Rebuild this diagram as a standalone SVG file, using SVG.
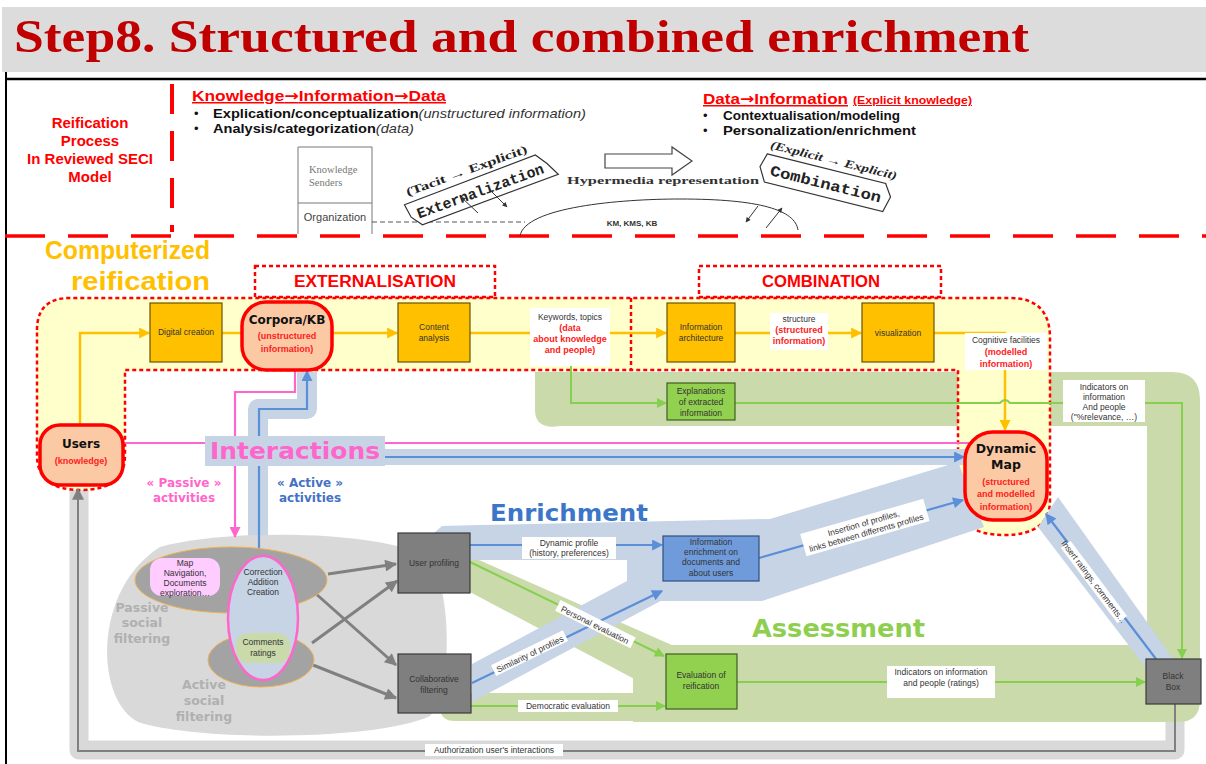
<svg xmlns="http://www.w3.org/2000/svg" width="1206" height="764" viewBox="0 0 1206 764">
<defs>
<style>
.sans{font-family:"Liberation Sans",Arial,sans-serif}
.serif{font-family:"Liberation Serif","Times New Roman",serif}
.mono{font-family:"Liberation Mono","Courier New",monospace;font-weight:bold}
.dv{font-family:"DejaVu Sans","Liberation Sans",sans-serif;font-weight:bold}
.arr{font-family:"DejaVu Sans",sans-serif;font-weight:bold}
.lbl{font-family:"Liberation Sans",Arial,sans-serif;font-size:8.5px;fill:#333;text-anchor:middle}
.rl{font-family:"Liberation Sans",Arial,sans-serif;font-size:9px;font-weight:bold;fill:#ff2020;text-anchor:middle}
.ob{fill:#ffc000;stroke:#6b5200;stroke-width:1.2}
.gb{fill:#7f7f7f;stroke:#3a3a3a;stroke-width:1.2}
.grn{fill:#92d050;stroke:#3f5f1f;stroke-width:1.2}
.peach{fill:#fbc9a3;stroke:#ff0000;stroke-width:3.5}
.wb{fill:#ffffff}
.rdash{fill:none;stroke:#ff0000;stroke-width:2.5;stroke-dasharray:4 3}
.ol{fill:none;stroke:#ffc000;stroke-width:2.5}
.gl{fill:none;stroke:#86d04f;stroke-width:2}
.bl{fill:none;stroke:#5b8fd8;stroke-width:2.2}
.pl{fill:none;stroke:#ff66cc;stroke-width:2.2}
.gyl{fill:none;stroke:#808080;stroke-width:3}
.bband{fill:#c6d4e6}
.gband{fill:#cadaab}
.sk{fill:none;stroke:#333;stroke-width:1}
</style>
<marker id="mo" viewBox="0 0 10 10" refX="9" refY="5" markerUnits="userSpaceOnUse" markerWidth="13" markerHeight="11" orient="auto"><path d="M0,0 L10,5 L0,10 z" fill="#ffc000"/></marker>
<marker id="mg" viewBox="0 0 10 10" refX="9" refY="5" markerUnits="userSpaceOnUse" markerWidth="12" markerHeight="10" orient="auto"><path d="M0,0 L10,5 L0,10 z" fill="#86d04f"/></marker>
<marker id="mb" viewBox="0 0 10 10" refX="9" refY="5" markerUnits="userSpaceOnUse" markerWidth="13" markerHeight="11" orient="auto"><path d="M0,0 L10,5 L0,10 z" fill="#5b8fd8"/></marker>
<marker id="mp" viewBox="0 0 10 10" refX="9" refY="5" markerUnits="userSpaceOnUse" markerWidth="13" markerHeight="11" orient="auto"><path d="M0,0 L10,5 L0,10 z" fill="#ff66cc"/></marker>
<marker id="my" viewBox="0 0 10 10" refX="9" refY="5" markerUnits="userSpaceOnUse" markerWidth="15" markerHeight="12" orient="auto"><path d="M0,0 L10,5 L0,10 z" fill="#808080"/></marker>
<marker id="mk" viewBox="0 0 10 10" refX="9" refY="5" markerUnits="userSpaceOnUse" markerWidth="6" markerHeight="5" orient="auto"><path d="M0,0 L10,5 L0,10 z" fill="#333"/></marker>
</defs>

<rect width="1206" height="764" fill="#ffffff"/>

<!-- Title -->
<g id="title">
<rect x="2" y="7" width="1204" height="65" fill="#dcdcdc"/>
<text x="14" y="52" class="serif" font-weight="bold" font-size="47" fill="#c00000" textLength="1015" lengthAdjust="spacingAndGlyphs">Step8. Structured and combined enrichment</text>
</g>

<!-- Frame -->
<g id="frame">
<line x1="6" y1="79" x2="1206" y2="79" stroke="#000" stroke-width="2.5"/>
<line x1="6" y1="72" x2="6" y2="764" stroke="#000" stroke-width="2"/>
<line x1="172" y1="84" x2="172" y2="232" stroke="#ff0000" stroke-width="4" stroke-dasharray="30 17"/>
<line x1="5" y1="236" x2="1206" y2="236" stroke="#ff0000" stroke-width="3.5" stroke-dasharray="40 23"/>
</g>

<!-- Header -->
<g id="header" class="sans">
<g font-weight="bold" font-size="15" fill="#ff0000" text-anchor="middle">
<text x="90" y="128">Reification</text>
<text x="90" y="146">Process</text>
<text x="90" y="164">In Reviewed SECI</text>
<text x="90" y="182">Model</text>
</g>
<text x="192" y="101" font-weight="bold" font-size="15" fill="#ff0000" text-decoration="underline" textLength="254" lengthAdjust="spacingAndGlyphs">Knowledge<tspan class="arr">→</tspan>Information<tspan class="arr">→</tspan>Data</text>
<text x="194" y="118" font-size="13" fill="#111">•</text>
<text x="213" y="118" font-size="13.5" textLength="373" lengthAdjust="spacingAndGlyphs"><tspan font-weight="bold" fill="#111">Explication/conceptualization</tspan><tspan font-style="italic" fill="#333">(unstructured information)</tspan></text>
<text x="194" y="133" font-size="13" fill="#111">•</text>
<text x="213" y="133" font-size="13.5" textLength="201" lengthAdjust="spacingAndGlyphs"><tspan font-weight="bold" fill="#111">Analysis/categorization</tspan><tspan font-style="italic" fill="#333">(data)</tspan></text>
<text x="703" y="104" font-weight="bold" font-size="15" fill="#ff0000" text-decoration="underline" textLength="145" lengthAdjust="spacingAndGlyphs">Data<tspan class="arr">→</tspan>Information</text>
<text x="853" y="104" font-weight="bold" font-size="10" fill="#ff0000" text-decoration="underline" textLength="119" lengthAdjust="spacingAndGlyphs">(Explicit knowledge)</text>
<text x="703" y="120" font-size="13" fill="#111">•</text>
<text x="723" y="120" font-size="13.5" font-weight="bold" fill="#111" textLength="177" lengthAdjust="spacingAndGlyphs">Contextualisation/modeling</text>
<text x="703" y="135" font-size="13" fill="#111">•</text>
<text x="723" y="135" font-size="13.5" font-weight="bold" fill="#111" textLength="193" lengthAdjust="spacingAndGlyphs">Personalization/enrichment</text>
</g>

<!-- SECI picture -->
<g id="seci">
<path d="M298 234 V147 H372 V234 M298 203 H372" stroke="#777" fill="none"/>
<text x="309" y="173" class="serif" font-size="10.5" fill="#777">Knowledge</text>
<text x="309" y="186" class="serif" font-size="10.5" fill="#777">Senders</text>
<text x="335" y="221" class="sans" font-size="11" fill="#444" text-anchor="middle">Organization</text>
<line x1="372" y1="222" x2="525" y2="222" stroke="#555" stroke-dasharray="5 3"/>
<g transform="translate(480,190) rotate(-20)">
<path d="M-76,-12 L64,-14 L72,-2 L79,12 L-66,13 L-74,2 Z" fill="#fff" stroke="#333" stroke-width="1.2"/>
<text x="0" y="6" class="mono" font-size="15" fill="#222" text-anchor="middle" textLength="134" lengthAdjust="spacingAndGlyphs">Externalization</text>
<text x="-6" y="-19" class="serif" font-weight="bold" font-size="11.5" fill="#222" text-anchor="middle" textLength="128" lengthAdjust="spacingAndGlyphs">(Tacit → Explicit)</text>
</g>
<line x1="478" y1="213" x2="461" y2="197" class="sk" marker-end="url(#mk)"/>
<line x1="491" y1="191" x2="507" y2="207" class="sk" marker-end="url(#mk)"/>
<polygon points="605,154 672,154 672,147 692,161 672,175 672,168 605,168" fill="#fff" stroke="#444" stroke-width="1.2"/>
<text x="567" y="184" class="serif" font-weight="bold" font-size="10.5" fill="#333" textLength="192" lengthAdjust="spacingAndGlyphs">Hypermedia representation</text>
<path d="M520 236 C525 207 620 199 680 199 C760 199 795 210 798 230" class="sk"/>
<text x="632" y="226" class="sans" font-weight="bold" font-size="8" fill="#333" text-anchor="middle">KM, KMS, KB</text>
<g transform="translate(826,183) rotate(14)">
<path d="M-64,-14 L58,-14 L66,-2 L62,14 L-60,14 L-68,0 Z" fill="#fff" stroke="#333" stroke-width="1.2"/>
<text x="0" y="6" class="mono" font-size="15" fill="#222" text-anchor="middle" textLength="114" lengthAdjust="spacingAndGlyphs">Combination</text>
<text x="2" y="-20" class="serif" font-weight="bold" font-style="italic" font-size="11.5" fill="#222" text-anchor="middle" textLength="130" lengthAdjust="spacingAndGlyphs">(Explicit → Explicit)</text>
</g>
<line x1="758" y1="206" x2="746" y2="222" class="sk" marker-end="url(#mk)"/>
<line x1="766" y1="228" x2="782" y2="208" class="sk" marker-end="url(#mk)"/>
</g>

<!-- Background regions -->
<g id="regions">
<path d="M79 490 V750 H1175 V704" fill="none" stroke="#d9d9d9" stroke-width="19" stroke-linejoin="round"/>
<path class="gband" d="M535 372 H1172 Q1200 372 1200 400 V426 H560 Q535 430 535 410 Z"/>
<rect class="gband" x="1147" y="398" width="53" height="300"/>
<path class="gband" d="M633 665 Q633 645 653 645 H1200 V700 Q1200 722 1178 722 H633 Z"/>
<path class="gband" d="M455 693 H640 V721 H455 Q440 721 440 707 Q440 693 455 693 Z"/>
<polygon class="gband" points="470,556 674,646 640,682 470,592"/>
<path d="M37 330 Q37 298 70 298 H1010 Q1050 298 1050 338 V500 Q1050 535 1004 535 Q958 535 958 500 V370 H125 V455 Q125 490 81 490 Q37 490 37 455 Z" fill="#ffffcc" stroke="#ff0000" stroke-width="2.5" stroke-dasharray="4 3"/>
<line x1="631" y1="298" x2="631" y2="370" class="rdash"/>
<rect x="255" y="266" width="240" height="31" class="rdash"/>
<rect x="699" y="266" width="242" height="31" class="rdash"/>
<text x="375" y="287" class="sans" font-weight="bold" font-size="16" fill="#ff0000" text-anchor="middle" textLength="162" lengthAdjust="spacingAndGlyphs">EXTERNALISATION</text>
<text x="821" y="287" class="sans" font-weight="bold" font-size="16" fill="#ff0000" text-anchor="middle" textLength="118" lengthAdjust="spacingAndGlyphs">COMBINATION</text>
<text x="45" y="259" class="sans" font-weight="bold" font-size="26" fill="#ffc000" textLength="165" lengthAdjust="spacingAndGlyphs">Computerized</text>
<text x="71" y="290" class="sans" font-weight="bold" font-size="26" fill="#ffc000" textLength="139" lengthAdjust="spacingAndGlyphs">reification</text>
<!-- blue bands -->
<path d="M258 560 V409 H307 V372" fill="none" stroke="#c6d4e6" stroke-width="20" stroke-linejoin="round"/>
<rect class="bband" x="385" y="449" width="580" height="16"/>
<polygon class="bband" points="433,534 442,526 480,525 770,519 958,462 984,527 762,601 627,601 627,560 440,560"/>
<polygon class="bband" points="472,664 640,574 668,597 472,702"/>
<polygon class="bband" points="1038,527 1058,497 1174,660 1146,668"/>
<!-- social filtering blob -->
<path d="M160 547 C230 528 390 530 432 560 C452 600 452 690 430 716 C380 740 200 742 138 722 C95 700 92 590 160 547 Z" fill="#d9d9d9"/>
<g class="dv" font-size="12.5" fill="#b0b0b0" text-anchor="middle">
<text x="142" y="612">Passive</text>
<text x="142" y="627">social</text>
<text x="142" y="643">filtering</text>
<text x="204" y="689">Active</text>
<text x="204" y="705">social</text>
<text x="204" y="721">filtering</text>
</g>
<text x="490" y="521" class="dv" font-size="23.5" fill="#3b76c9" textLength="158" lengthAdjust="spacingAndGlyphs">Enrichment</text>
<text x="752" y="637" class="dv" font-size="24" fill="#8fcf4f" textLength="173" lengthAdjust="spacingAndGlyphs">Assessment</text>
<g class="dv" font-size="12" text-anchor="middle">
<text x="184" y="487" fill="#ff66cc">« Passive »</text>
<text x="184" y="502" fill="#ff66cc">activities</text>
<text x="310" y="487" fill="#4472c4">« Active »</text>
<text x="310" y="502" fill="#4472c4">activities</text>
</g>
</g>

<!-- Connectors -->
<g id="connectors">
<path class="ol" d="M80 425 V333 H149" marker-end="url(#mo)"/>
<line class="ol" x1="222" y1="333" x2="242" y2="333"/>
<line class="ol" x1="332" y1="333" x2="397" y2="333" marker-end="url(#mo)"/>
<line class="ol" x1="470" y1="333" x2="666" y2="333" marker-end="url(#mo)"/>
<line class="ol" x1="735" y1="333" x2="861" y2="333" marker-end="url(#mo)"/>
<path class="ol" d="M933 333 H1005 V430" marker-end="url(#mo)"/>
<path class="gl" d="M571 366 V403 H666" marker-end="url(#mg)"/>
<path class="gl" d="M735 403 H1000 Q1005 397 1010 403 H1182 V658" marker-end="url(#mg)"/>
<line class="gl" x1="737" y1="682" x2="1145" y2="682" marker-end="url(#mg)"/>
<line class="gl" x1="471" y1="706" x2="665" y2="706" marker-end="url(#mg)"/>
<line class="gl" x1="470" y1="562" x2="664" y2="656" marker-end="url(#mg)"/>
<path class="pl" d="M123 443 H975"/>
<path class="pl" d="M295 370 V392 H235 V537" marker-end="url(#mp)"/>
<path class="bl" d="M259 556 V409 H307 V371" marker-end="url(#mb)"/>
<line class="bl" x1="385" y1="457" x2="964" y2="457" marker-end="url(#mb)"/>
<line class="bl" x1="470" y1="545" x2="662" y2="545" marker-end="url(#mb)"/>
<line class="bl" x1="472" y1="683" x2="662" y2="591" marker-end="url(#mb)"/>
<line class="bl" x1="759" y1="558" x2="963" y2="500" marker-end="url(#mb)"/>
<line class="bl" x1="1156" y1="659" x2="1046" y2="514" marker-end="url(#mb)"/>
<line class="gyl" x1="328" y1="574" x2="396" y2="564" marker-end="url(#my)"/>
<line class="gyl" x1="315" y1="593" x2="396" y2="665" marker-end="url(#my)"/>
<line class="gyl" x1="312" y1="643" x2="397" y2="581" marker-end="url(#my)"/>
<line class="gyl" x1="313" y1="665" x2="396" y2="698" marker-end="url(#my)"/>
<path d="M1175 704 V751 H78 V489" fill="none" stroke="#808080" stroke-width="2" marker-end="url(#my)"/>
</g>

<!-- Edge labels -->
<g id="edge-labels">
<rect class="wb" x="530" y="308" width="80" height="58"/>
<text class="lbl" x="570" y="320" fill="#555">Keywords, topics</text>
<text class="rl" x="570" y="331">(data</text>
<text class="rl" x="570" y="342">about knowledge</text>
<text class="rl" x="570" y="353">and people)</text>
<rect class="wb" x="770" y="313" width="58" height="37"/>
<text class="lbl" x="799" y="322" fill="#555">structure</text>
<text class="rl" x="799" y="333">(structured</text>
<text class="rl" x="799" y="344">information)</text>
<rect class="wb" x="965" y="333" width="82" height="37"/>
<text class="lbl" x="1006" y="343" fill="#444">Cognitive facilities</text>
<text class="rl" x="1006" y="355">(modelled</text>
<text class="rl" x="1006" y="367">information)</text>
<rect class="wb" x="1063" y="380" width="82" height="42"/>
<text class="lbl" x="1104" y="390">Indicators on</text>
<text class="lbl" x="1104" y="400">information</text>
<text class="lbl" x="1104" y="410">And people</text>
<text class="lbl" x="1104" y="420" font-size="7.5">("%relevance, …)</text>
<rect class="wb" x="522" y="537" width="94" height="22"/>
<text class="lbl" x="569" y="546">Dynamic profile</text>
<text class="lbl" x="569" y="556">(history, preferences)</text>
<rect class="wb" x="518" y="700" width="100" height="12"/>
<text class="lbl" x="568" y="709">Democratic evaluation</text>
<rect class="wb" x="887" y="666" width="108" height="32"/>
<text class="lbl" x="941" y="675">Indicators on information</text>
<text class="lbl" x="941" y="686">and people (ratings)</text>
<rect class="wb" x="425" y="744" width="138" height="12"/>
<text class="lbl" x="494" y="753">Authorization user's interactions</text>
<g transform="translate(595,625) rotate(26.5)">
<rect class="wb" x="-42" y="-7" width="84" height="12"/>
<text class="lbl" x="0" y="3">Personal  evaluation</text>
</g>
<g transform="translate(530,654) rotate(-26)">
<rect class="wb" x="-40" y="-7" width="80" height="12"/>
<text class="lbl" x="0" y="3">Similarity of profiles</text>
</g>
<g transform="translate(865,528) rotate(-16)">
<rect class="wb" x="-64" y="-12" width="128" height="23"/>
<text class="lbl" x="0" y="-2">Insertion of profiles,</text>
<text class="lbl" x="0" y="8">links between differents profiles</text>
</g>
<g transform="translate(1094,582) rotate(53)">
<rect class="wb" x="-47" y="-6" width="94" height="12"/>
<text class="lbl" x="0" y="3">Insert ratings, comments…</text>
</g>
</g>

<!-- Interactions -->
<g id="interactions">
<rect x="205" y="436" width="180" height="30" fill="#c6d4e6"/>
<text x="295" y="459" class="dv" font-size="23" fill="#ff66cc" text-anchor="middle" textLength="170" lengthAdjust="spacingAndGlyphs">Interactions</text>
</g>

<!-- Nodes -->
<g id="node-users">
<rect class="peach" x="40" y="425" width="83" height="60" rx="20"/>
<text x="81" y="448" class="dv" font-size="12" fill="#111" text-anchor="middle">Users</text>
<text x="81" y="464" class="rl" font-size="9.5">(knowledge)</text>
</g>
<g id="node-digital-creation">
<rect class="ob" x="150" y="303" width="72" height="59"/>
<text class="lbl" x="186" y="335" font-size="9.5">Digital creation</text>
</g>
<g id="node-corpora">
<rect class="peach" x="242" y="302" width="90" height="68" rx="24"/>
<text x="287" y="324" class="dv" font-size="12" fill="#111" text-anchor="middle">Corpora/KB</text>
<text class="rl" x="287" y="339" font-size="10">(unstructured</text>
<text class="rl" x="287" y="352" font-size="10">information)</text>
</g>
<g id="node-content-analysis">
<rect class="ob" x="398" y="303" width="72" height="59"/>
<text class="lbl" x="434" y="330" font-size="9.5">Content</text>
<text class="lbl" x="434" y="341" font-size="9.5">analysis</text>
</g>
<g id="node-info-architecture">
<rect class="ob" x="667" y="303" width="68" height="59"/>
<text class="lbl" x="701" y="330" font-size="9.5">Information</text>
<text class="lbl" x="701" y="341" font-size="9.5">architecture</text>
</g>
<g id="node-visualization">
<rect class="ob" x="862" y="303" width="72" height="59"/>
<text class="lbl" x="898" y="336" font-size="9.5">visualization</text>
</g>
<g id="node-explanations">
<rect class="grn" x="667" y="383" width="68" height="37"/>
<text class="lbl" x="701" y="394">Explanations</text>
<text class="lbl" x="701" y="405">of extracted</text>
<text class="lbl" x="701" y="416">information</text>
</g>
<g id="node-dynamic-map">
<rect class="peach" x="965" y="432" width="82" height="88" rx="28"/>
<text x="1006" y="453" class="dv" font-size="12.5" fill="#111" text-anchor="middle">Dynamic</text>
<text x="1006" y="469" class="dv" font-size="12.5" fill="#111" text-anchor="middle">Map</text>
<text class="rl" x="1006" y="485" font-size="10">(structured</text>
<text class="rl" x="1006" y="497" font-size="9">and modelled</text>
<text class="rl" x="1006" y="510" font-size="10">information)</text>
</g>
<g id="node-passive">
<ellipse cx="231" cy="580" rx="96" ry="33" fill="#a3a3a3" stroke="#f0b050" stroke-width="1"/>
<rect x="150" y="558" width="70" height="38" rx="12" fill="#ffccff"/>
<text class="lbl" x="185" y="566" font-size="8">Map</text>
<text class="lbl" x="185" y="576" font-size="8">Navigation,</text>
<text class="lbl" x="185" y="586" font-size="8">Documents</text>
<text class="lbl" x="185" y="596" font-size="8">exploration…</text>
</g>
<g id="node-active">
<ellipse cx="261" cy="660" rx="53" ry="27" fill="#a3a3a3" stroke="#f0b050" stroke-width="1"/>
<ellipse cx="263" cy="618" rx="35" ry="62" fill="#c6d4e6" stroke="#ff66cc" stroke-width="2.5"/>
<text class="lbl" x="263" y="575">Correction</text>
<text class="lbl" x="263" y="585">Addition</text>
<text class="lbl" x="263" y="595">Creation</text>
<rect x="236" y="633" width="54" height="30" rx="12" fill="#cadaab"/>
<text class="lbl" x="263" y="645">Comments</text>
<text class="lbl" x="263" y="656">ratings</text>
</g>
<g id="node-user-profiling">
<rect class="gb" x="398" y="533" width="72" height="60"/>
<text class="lbl" x="434" y="566" fill="#222">User profiling</text>
</g>
<g id="node-collaborative">
<rect class="gb" x="398" y="654" width="73" height="59"/>
<text class="lbl" x="434" y="682" fill="#222">Collaborative</text>
<text class="lbl" x="434" y="693" fill="#222">filtering</text>
</g>
<g id="node-info-enrichment">
<rect x="663" y="536" width="96" height="45" fill="#6f9bdb" stroke="#2f4f7f" stroke-width="1.2"/>
<text class="lbl" x="711" y="545" fill="#222">Information</text>
<text class="lbl" x="711" y="555" fill="#222">enrichment on</text>
<text class="lbl" x="711" y="565" fill="#222">documents and</text>
<text class="lbl" x="711" y="576" fill="#222">about users</text>
</g>
<g id="node-evaluation">
<rect class="grn" x="666" y="654" width="71" height="55"/>
<text class="lbl" x="701" y="678" fill="#222">Evaluation of</text>
<text class="lbl" x="701" y="689" fill="#222">reification</text>
</g>
<g id="node-black-box">
<rect class="gb" x="1146" y="659" width="55" height="45"/>
<text class="lbl" x="1173" y="679" fill="#222">Black</text>
<text class="lbl" x="1173" y="690" fill="#222">Box</text>
</g>
</svg>
